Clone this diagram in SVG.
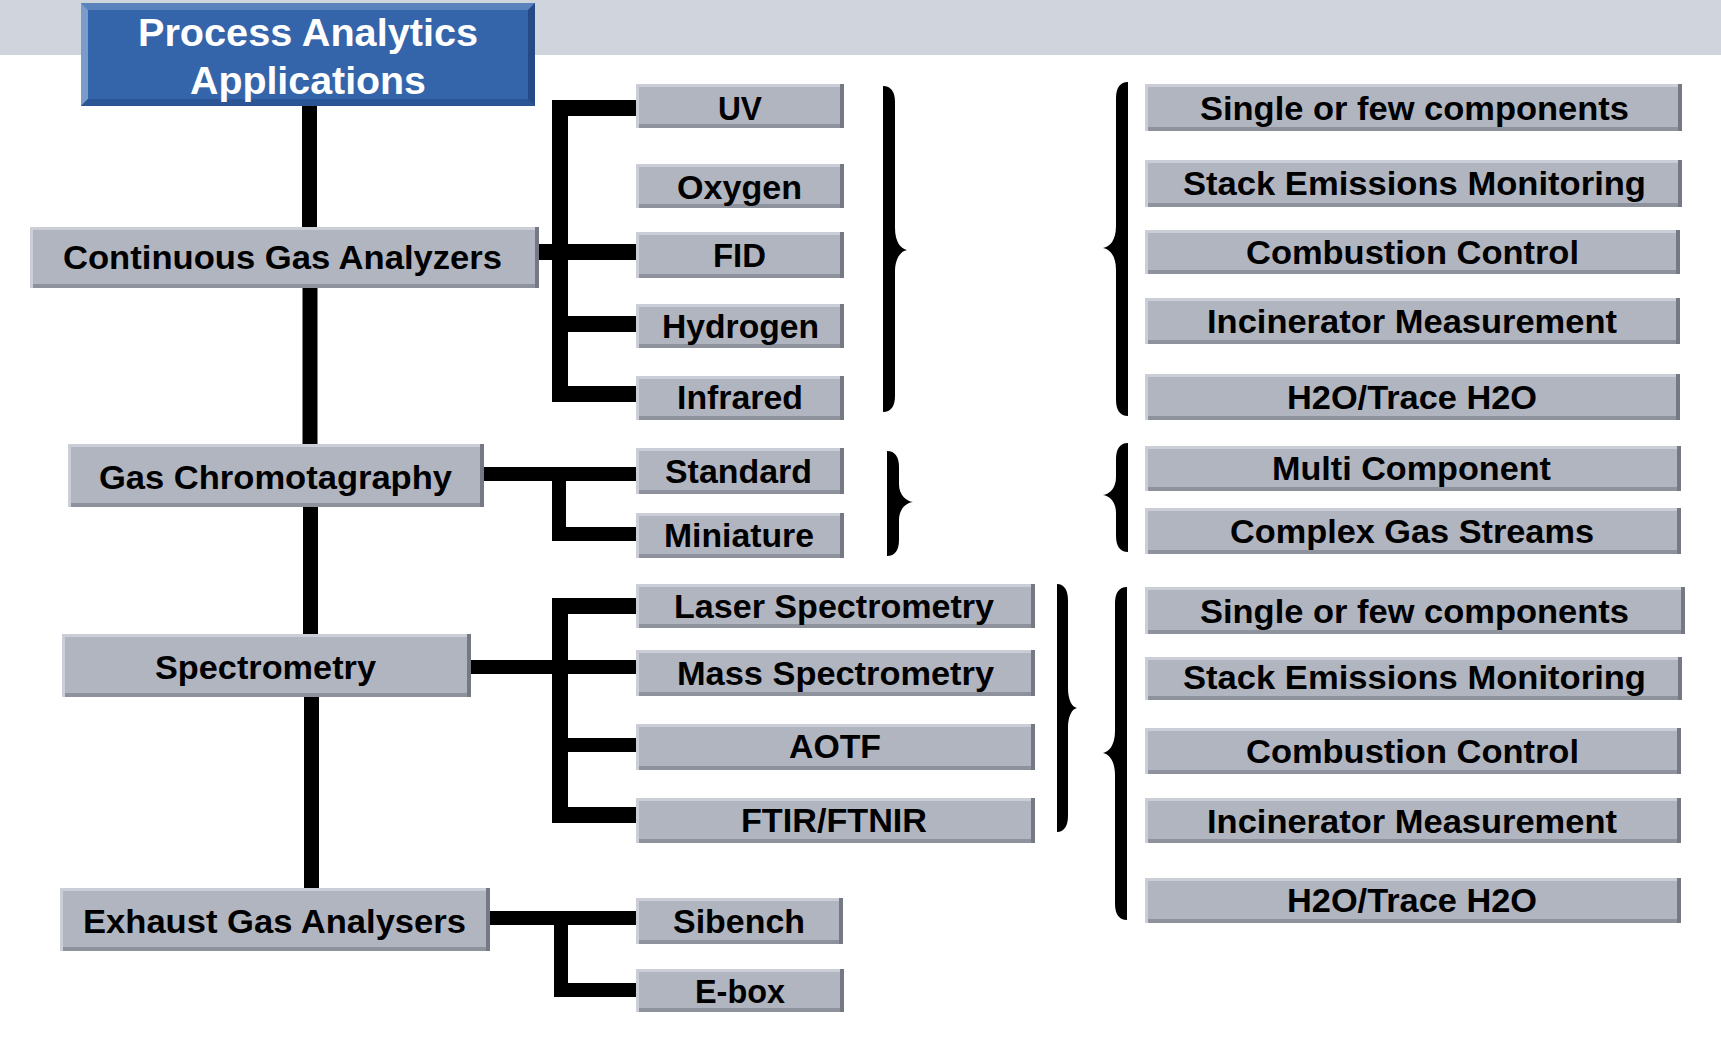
<svg xmlns="http://www.w3.org/2000/svg" width="1721" height="1039" viewBox="0 0 1721 1039">
<style>
.box{fill:#b1b5c0}
.hl{fill:none;stroke:#cbced6;stroke-width:3}
.sb{fill:none;stroke:#8e929c;stroke-width:4}
.sr{fill:none;stroke:#757984;stroke-width:4}
.lbl{font-family:"Liberation Sans",Arial,Helvetica,sans-serif;font-weight:bold;font-size:34px;fill:#000}
.ttl{font-family:"Liberation Sans",Arial,Helvetica,sans-serif;font-weight:bold;font-size:39px;fill:#fff}
.con{fill:none;stroke:#000;stroke-width:16;stroke-linejoin:miter;stroke-linecap:butt}
.thin{stroke-width:14}
.trunk{fill:none;stroke:#000;stroke-width:15}
.brace{fill:#000}
</style>
<rect x="0" y="0" width="1721" height="55" fill="#d0d4dc"/>

<g id="connectors">
<path class="trunk" d="M309.5 106V227"/>
<path class="trunk" d="M310 288V444"/>
<path class="trunk" d="M310.5 507V634"/>
<path class="trunk" d="M311.5 697V888"/>
<path class="con" d="M636 108H560V394H636"/>
<path class="con" d="M539 252H636"/>
<path class="con" d="M560 324H636"/>
<path class="con thin" d="M484 474H636"/>
<path class="con thin" d="M559 474V534H636"/>
<path class="con" d="M636 606H560V815H636"/>
<path class="con thin" d="M471 667H636"/>
<path class="con thin" d="M560 745H636"/>
<path class="con thin" d="M490 918H636"/>
<path class="con thin" d="M561 918V990H636"/>
</g>

<g id="braces">
<path class="brace" d="M883,86 C891,86 895,92 895,102 L895,228 C895,242 901,249 907,250 C901,251 895,258 895,272 L895,396 C895,406 891,412 883,412 Z"/>
<path class="brace" d="M887,451 C895,451 899,457 899,467 L899,484 C899,495 906,501 913,502 C906,503 899,509 899,520 L899,540 C899,550 895,556 887,556 Z"/>
<path class="brace" d="M1057,584 C1064,584 1068,590 1068,600 L1068,688 C1068,700 1072,707 1077,708 C1072,709 1068,716 1068,728 L1068,816 C1068,826 1064,832 1057,832 Z"/>
<path class="brace" d="M1128,82 C1120,82 1116,88 1116,98 L1116,226 C1116,240 1110,247 1103,248 C1110,249 1116,256 1116,270 L1116,400 C1116,410 1120,416 1128,416 Z"/>
<path class="brace" d="M1128,443 C1120,443 1116,449 1116,459 L1116,477 C1116,488 1110,494 1103,495 C1110,496 1116,502 1116,513 L1116,536 C1116,546 1120,552 1128,552 Z"/>
<path class="brace" d="M1127,587 C1119,587 1115,593 1115,603 L1115,731 C1115,745 1109,752 1103,753 C1109,754 1115,761 1115,775 L1115,904 C1115,914 1119,920 1127,920 Z"/>
</g>

<g id="n-title">
<rect x="81" y="3" width="454" height="103" fill="#3465ab"/>
<polygon points="81,3 535,3 528,10 88,10" fill="#5a83bd"/>
<polygon points="81,3 88,10 88,99 81,106" fill="#7b9bcb"/>
<polygon points="81,106 88,99 528,99 535,106" fill="#2b5594"/>
<polygon points="535,3 528,10 528,99 535,106" fill="#264a85"/>
<text class="ttl" x="138" y="46" textLength="340" lengthAdjust="spacingAndGlyphs">Process Analytics</text>
<text class="ttl" x="190" y="94" textLength="236" lengthAdjust="spacingAndGlyphs">Applications</text>
</g>

<g id="n-cga"><rect class="box" x="30" y="227" width="509" height="61"/><path class="hl" d="M31.5 288V228.5H539"/><path class="sb" d="M33 286H539"/><path class="sr" d="M537 227V288"/><text class="lbl" x="63" y="269" textLength="439" lengthAdjust="spacingAndGlyphs">Continuous Gas Analyzers</text></g>
<g id="n-gc"><rect class="box" x="68" y="444" width="416" height="63"/><path class="hl" d="M69.5 507V445.5H484"/><path class="sb" d="M71 505H484"/><path class="sr" d="M482 444V507"/><text class="lbl" x="99" y="489" textLength="353" lengthAdjust="spacingAndGlyphs">Gas Chromotagraphy</text></g>
<g id="n-spec"><rect class="box" x="62" y="634" width="409" height="63"/><path class="hl" d="M63.5 697V635.5H471"/><path class="sb" d="M65 695H471"/><path class="sr" d="M469 634V697"/><text class="lbl" x="155" y="679" textLength="221" lengthAdjust="spacingAndGlyphs">Spectrometry</text></g>
<g id="n-ega"><rect class="box" x="60" y="888" width="430" height="63"/><path class="hl" d="M61.5 951V889.5H490"/><path class="sb" d="M63 949H490"/><path class="sr" d="M488 888V951"/><text class="lbl" x="83" y="933" textLength="383" lengthAdjust="spacingAndGlyphs">Exhaust Gas Analysers</text></g>

<g id="n-uv"><rect class="box" x="636" y="84" width="208" height="44"/><path class="hl" d="M637.5 128V85.5H844"/><path class="sb" d="M639 126H844"/><path class="sr" d="M842 84V128"/><text class="lbl" x="718" y="120" textLength="44" lengthAdjust="spacingAndGlyphs">UV</text></g>
<g id="n-oxygen"><rect class="box" x="636" y="164" width="208" height="44"/><path class="hl" d="M637.5 208V165.5H844"/><path class="sb" d="M639 206H844"/><path class="sr" d="M842 164V208"/><text class="lbl" x="677" y="199" textLength="125" lengthAdjust="spacingAndGlyphs">Oxygen</text></g>
<g id="n-fid"><rect class="box" x="636" y="232" width="208" height="46"/><path class="hl" d="M637.5 278V233.5H844"/><path class="sb" d="M639 276H844"/><path class="sr" d="M842 232V278"/><text class="lbl" x="713" y="267" textLength="53" lengthAdjust="spacingAndGlyphs">FID</text></g>
<g id="n-hydrogen"><rect class="box" x="636" y="304" width="208" height="44"/><path class="hl" d="M637.5 348V305.5H844"/><path class="sb" d="M639 346H844"/><path class="sr" d="M842 304V348"/><text class="lbl" x="662" y="338" textLength="157" lengthAdjust="spacingAndGlyphs">Hydrogen</text></g>
<g id="n-infrared"><rect class="box" x="636" y="376" width="208" height="44"/><path class="hl" d="M637.5 420V377.5H844"/><path class="sb" d="M639 418H844"/><path class="sr" d="M842 376V420"/><text class="lbl" x="677" y="409" textLength="126" lengthAdjust="spacingAndGlyphs">Infrared</text></g>
<g id="n-standard"><rect class="box" x="636" y="448" width="208" height="46"/><path class="hl" d="M637.5 494V449.5H844"/><path class="sb" d="M639 492H844"/><path class="sr" d="M842 448V494"/><text class="lbl" x="665" y="483" textLength="147" lengthAdjust="spacingAndGlyphs">Standard</text></g>
<g id="n-miniature"><rect class="box" x="636" y="513" width="208" height="45"/><path class="hl" d="M637.5 558V514.5H844"/><path class="sb" d="M639 556H844"/><path class="sr" d="M842 513V558"/><text class="lbl" x="664" y="547" textLength="150" lengthAdjust="spacingAndGlyphs">Miniature</text></g>
<g id="n-laser"><rect class="box" x="636" y="584" width="399" height="44"/><path class="hl" d="M637.5 628V585.5H1035"/><path class="sb" d="M639 626H1035"/><path class="sr" d="M1033 584V628"/><text class="lbl" x="674" y="618" textLength="320" lengthAdjust="spacingAndGlyphs">Laser Spectrometry</text></g>
<g id="n-mass"><rect class="box" x="636" y="650" width="399" height="46"/><path class="hl" d="M637.5 696V651.5H1035"/><path class="sb" d="M639 694H1035"/><path class="sr" d="M1033 650V696"/><text class="lbl" x="677" y="685" textLength="317" lengthAdjust="spacingAndGlyphs">Mass Spectrometry</text></g>
<g id="n-aotf"><rect class="box" x="636" y="724" width="399" height="46"/><path class="hl" d="M637.5 770V725.5H1035"/><path class="sb" d="M639 768H1035"/><path class="sr" d="M1033 724V770"/><text class="lbl" x="789" y="758" textLength="92" lengthAdjust="spacingAndGlyphs">AOTF</text></g>
<g id="n-ftir"><rect class="box" x="636" y="798" width="399" height="45"/><path class="hl" d="M637.5 843V799.5H1035"/><path class="sb" d="M639 841H1035"/><path class="sr" d="M1033 798V843"/><text class="lbl" x="741" y="832" textLength="186" lengthAdjust="spacingAndGlyphs">FTIR/FTNIR</text></g>
<g id="n-sibench"><rect class="box" x="636" y="898" width="207" height="46"/><path class="hl" d="M637.5 944V899.5H843"/><path class="sb" d="M639 942H843"/><path class="sr" d="M841 898V944"/><text class="lbl" x="673" y="933" textLength="132" lengthAdjust="spacingAndGlyphs">Sibench</text></g>
<g id="n-ebox"><rect class="box" x="636" y="969" width="208" height="43"/><path class="hl" d="M637.5 1012V970.5H844"/><path class="sb" d="M639 1010H844"/><path class="sr" d="M842 969V1012"/><text class="lbl" x="695" y="1003" textLength="90" lengthAdjust="spacingAndGlyphs">E-box</text></g>

<g id="n-single1"><rect class="box" x="1145" y="84" width="537" height="47"/><path class="hl" d="M1146.5 131V85.5H1682"/><path class="sb" d="M1148 129H1682"/><path class="sr" d="M1680 84V131"/><text class="lbl" x="1200" y="120" textLength="429" lengthAdjust="spacingAndGlyphs">Single or few components</text></g>
<g id="n-stack1"><rect class="box" x="1145" y="160" width="537" height="47"/><path class="hl" d="M1146.5 207V161.5H1682"/><path class="sb" d="M1148 205H1682"/><path class="sr" d="M1680 160V207"/><text class="lbl" x="1183" y="195" textLength="463" lengthAdjust="spacingAndGlyphs">Stack Emissions Monitoring</text></g>
<g id="n-comb1"><rect class="box" x="1145" y="230" width="535" height="44"/><path class="hl" d="M1146.5 274V231.5H1680"/><path class="sb" d="M1148 272H1680"/><path class="sr" d="M1678 230V274"/><text class="lbl" x="1246" y="264" textLength="333" lengthAdjust="spacingAndGlyphs">Combustion Control</text></g>
<g id="n-incin1"><rect class="box" x="1145" y="298" width="535" height="46"/><path class="hl" d="M1146.5 344V299.5H1680"/><path class="sb" d="M1148 342H1680"/><path class="sr" d="M1678 298V344"/><text class="lbl" x="1207" y="333" textLength="410" lengthAdjust="spacingAndGlyphs">Incinerator Measurement</text></g>
<g id="n-h2o1"><rect class="box" x="1145" y="374" width="535" height="46"/><path class="hl" d="M1146.5 420V375.5H1680"/><path class="sb" d="M1148 418H1680"/><path class="sr" d="M1678 374V420"/><text class="lbl" x="1287" y="409" textLength="250" lengthAdjust="spacingAndGlyphs">H2O/Trace H2O</text></g>
<g id="n-multi"><rect class="box" x="1145" y="446" width="536" height="45"/><path class="hl" d="M1146.5 491V447.5H1681"/><path class="sb" d="M1148 489H1681"/><path class="sr" d="M1679 446V491"/><text class="lbl" x="1272" y="480" textLength="279" lengthAdjust="spacingAndGlyphs">Multi Component</text></g>
<g id="n-complex"><rect class="box" x="1145" y="508" width="536" height="46"/><path class="hl" d="M1146.5 554V509.5H1681"/><path class="sb" d="M1148 552H1681"/><path class="sr" d="M1679 508V554"/><text class="lbl" x="1230" y="543" textLength="364" lengthAdjust="spacingAndGlyphs">Complex Gas Streams</text></g>
<g id="n-single2"><rect class="box" x="1145" y="587" width="540" height="47"/><path class="hl" d="M1146.5 634V588.5H1685"/><path class="sb" d="M1148 632H1685"/><path class="sr" d="M1683 587V634"/><text class="lbl" x="1200" y="623" textLength="429" lengthAdjust="spacingAndGlyphs">Single or few components</text></g>
<g id="n-stack2"><rect class="box" x="1145" y="657" width="537" height="43"/><path class="hl" d="M1146.5 700V658.5H1682"/><path class="sb" d="M1148 698H1682"/><path class="sr" d="M1680 657V700"/><text class="lbl" x="1183" y="689" textLength="463" lengthAdjust="spacingAndGlyphs">Stack Emissions Monitoring</text></g>
<g id="n-comb2"><rect class="box" x="1145" y="728" width="536" height="46"/><path class="hl" d="M1146.5 774V729.5H1681"/><path class="sb" d="M1148 772H1681"/><path class="sr" d="M1679 728V774"/><text class="lbl" x="1246" y="763" textLength="333" lengthAdjust="spacingAndGlyphs">Combustion Control</text></g>
<g id="n-incin2"><rect class="box" x="1145" y="798" width="536" height="45"/><path class="hl" d="M1146.5 843V799.5H1681"/><path class="sb" d="M1148 841H1681"/><path class="sr" d="M1679 798V843"/><text class="lbl" x="1207" y="833" textLength="410" lengthAdjust="spacingAndGlyphs">Incinerator Measurement</text></g>
<g id="n-h2o2"><rect class="box" x="1145" y="878" width="536" height="45"/><path class="hl" d="M1146.5 923V879.5H1681"/><path class="sb" d="M1148 921H1681"/><path class="sr" d="M1679 878V923"/><text class="lbl" x="1287" y="912" textLength="250" lengthAdjust="spacingAndGlyphs">H2O/Trace H2O</text></g>
</svg>
